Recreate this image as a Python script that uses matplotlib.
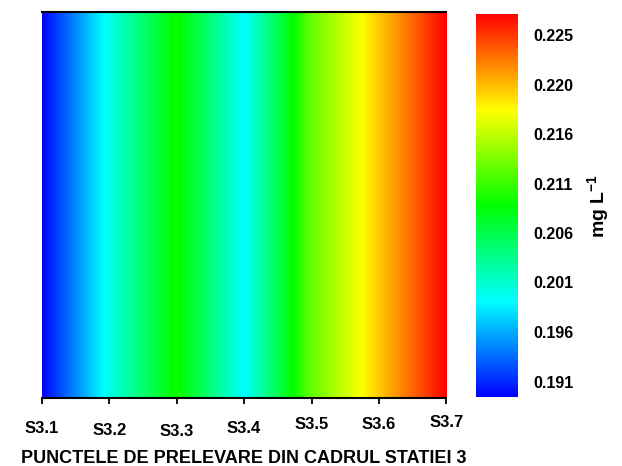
import numpy as np
import matplotlib.pyplot as plt
from matplotlib.colors import LinearSegmentedColormap
from matplotlib.transforms import ScaledTranslation

# punctele de prelevare si valorile masurate (mg L-1)
points = ['S3.1', 'S3.2', 'S3.3', 'S3.4', 'S3.5', 'S3.6', 'S3.7']
values = [0.1897, 0.1999, 0.2090, 0.1991, 0.2123, 0.2199, 0.2274]
cbar_ticks = [0.1912, 0.1961, 0.2010, 0.2058, 0.2107, 0.2156, 0.2204, 0.2253]
vmin, vmax = 0.1897, 0.2274

plt.rcParams['font.family'] = ['Liberation Sans', 'DejaVu Sans']
plt.rcParams['font.weight'] = 'bold'
plt.rcParams['mathtext.fontset'] = 'custom'
plt.rcParams['mathtext.rm'] = 'Liberation Sans:bold'
plt.rcParams['mathtext.bf'] = 'Liberation Sans:bold'

cmap = LinearSegmentedColormap.from_list(
    'surfer', ['#0000ff', '#00ffff', '#00ff00', '#ffff00', '#ff0000'])

fig = plt.figure(figsize=(6.22, 4.66), dpi=100)
ax = fig.add_axes([0.0675, 0.146, 0.650, 0.828])
cax = fig.add_axes([0.765, 0.148, 0.0675, 0.822])

n = len(points)
data = np.array([values])
im = ax.imshow(data, cmap=cmap, vmin=vmin, vmax=vmax, aspect='auto',
               interpolation='bilinear', interpolation_stage='data',
               extent=(-0.5, n - 0.5, 0, 1))
ax.set_xlim(0, n - 1)
ax.set_ylim(0, 1)

# axe
ax.set_yticks([])
ax.spines['left'].set_visible(False)
ax.spines['right'].set_visible(False)
ax.spines['top'].set_linewidth(1.5)
ax.spines['bottom'].set_linewidth(1.5)
ax.set_xticks(range(n))
ax.set_xticklabels(points, fontsize=12, fontweight='bold')
ax.tick_params(axis='x', direction='out', length=4.5, width=1.3, pad=12)

# etichetele sunt usor decalate pe verticala in original
offsets = [0, -1.5, -2, 0, 2.5, 3, 4]
for lab, dy in zip(ax.get_xticklabels(), offsets):
    lab.set_transform(lab.get_transform() + ScaledTranslation(0, dy / 72, fig.dpi_scale_trans))

ax.set_xlabel('PUNCTELE DE PRELEVARE DIN CADRUL STATIEI 3',
              fontsize=13, fontweight='bold', labelpad=8)

# bara de culori
cb = fig.colorbar(im, cax=cax)
cb.outline.set_visible(False)
cb.set_ticks(cbar_ticks)
cb.set_ticklabels([f'{t:.3f}' for t in cbar_ticks])
cax.tick_params(length=0, pad=11, labelsize=11.5)
for lab in cax.get_yticklabels():
    lab.set_fontweight('bold')
cb.set_label(r'mg L$^{\mathbf{-1}}$', fontsize=14, fontweight='bold', labelpad=9)

plt.savefig('out.png', dpi=100)
plt.close()
